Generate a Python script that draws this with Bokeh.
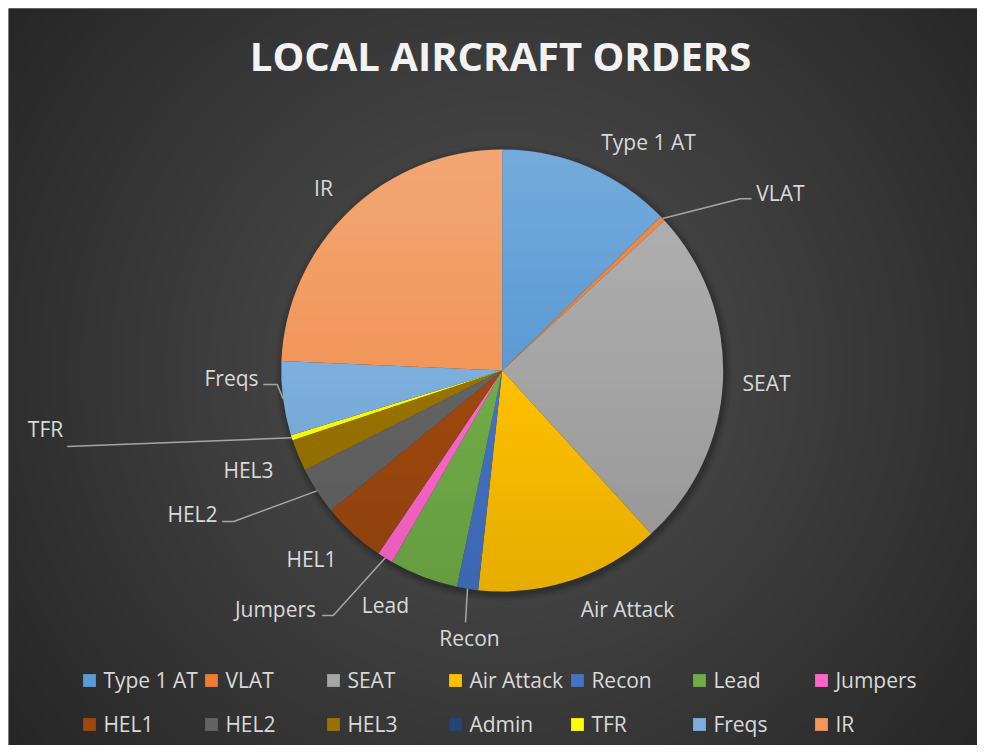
import numpy as np
from bokeh.plotting import figure
from bokeh.models import ColumnDataSource, Range1d, Legend, LegendItem, Label
from bokeh.core.properties import value
from bokeh.embed import file_html
from bokeh.resources import INLINE

# ---------------- data ----------------
categories = ["Type 1 AT", "VLAT", "SEAT", "Air Attack", "Recon", "Lead", "Jumpers",
              "HEL1", "HEL2", "HEL3", "Admin", "TFR", "Freqs", "IR"]
orders = [33, 1, 65, 35, 4, 13, 3, 12, 9, 6, 0, 1, 14, 63]
colors = ["#5B9BD5", "#ED7D31", "#A5A5A5", "#FFC000", "#4472C4", "#70AD47", "#FF66CC",
          "#9E480E", "#636363", "#997300", "#264478", "#FFFF00", "#7CAFDD", "#F1975A"]
title_text = "LOCAL AIRCRAFT ORDERS"

# ---------------- layout ----------------
BL, BT = 8, 8           # white strip left / top (as in the reference)
W, H = 969, 737         # frame size


def px(X, Y):
    """picture pixel -> data coordinate (data units == screen px)"""
    return X - BL, H - (Y - BT)


CX, CY = px(501.7, 370)
R = 221

# label anchor positions (picture px)
label_pos = {
    "Type 1 AT": (648, 141), "VLAT": (780, 192), "SEAT": (766, 382),
    "Air Attack": (627, 608), "Recon": (469, 637), "Lead": (385, 604),
    "Jumpers": (275, 608), "HEL1": (311, 558), "HEL2": (192, 513),
    "HEL3": (248, 469), "TFR": (45, 428), "Freqs": (231, 377), "IR": (323, 187),
}
# leader line elbows (picture px) after the slice edge point
leaders = {
    "VLAT": [(740, 198.3), (751, 198.3)],
    "Freqs": [(276.7, 384), (262.7, 384)],
    "TFR": [(66.7, 446)],
    "HEL2": [(233.3, 521), (221.7, 521)],
    "Jumpers": [(332.7, 615), (321.7, 615)],
    "Recon": [(465, 621.7)],
}

# ---------------- geometry from data ----------------
vals = np.array(orders, dtype=float)
frac = vals / vals.sum()
cum = np.concatenate([[0.0], np.cumsum(frac)])
start_ang = np.pi / 2 - cum[:-1] * 2 * np.pi
end_ang = np.pi / 2 - cum[1:] * 2 * np.pi
mid_cw = (cum[:-1] + cum[1:]) / 2 * 2 * np.pi  # clockwise from top

src = ColumnDataSource(dict(
    cat=categories, val=orders, color=colors,
    start=start_ang, end=end_ang,
    radius=[R if v > 0 else 0 for v in orders],
))

p = figure(width=W + BL, height=H + BT, x_range=Range1d(0, W), y_range=Range1d(0, H),
           output_backend="svg", toolbar_location=None,
           min_border_left=BL, min_border_top=BT, min_border_right=0, min_border_bottom=0,
           background_fill_color="#3c3c3c", border_fill_color="white")
p.axis.visible = False
p.grid.visible = False
p.outline_line_color = None

# background radial gradient
sc = 3
gw, gh = W // sc + 1, H // sc + 1
yy, xx = np.mgrid[0:gh, 0:gw]
d = np.hypot(xx * sc - CX, yy * sc - CY)
d = d / d.max()
lum = (82 - 44 * d).clip(0, 255).astype(np.uint32)
img = (255 << 24) | (lum << 16) | (lum << 8) | lum
p.image_rgba(image=[img.astype(np.uint32)], x=0, y=0, dw=gw * sc, dh=gh * sc)

# pie shadow
for k, a in [(7, 0.05), (5, 0.06), (3, 0.07), (1.5, 0.08)]:
    p.circle(x=CX + 1.5, y=CY - 2.5, radius=R + k, fill_color="black", fill_alpha=a,
             line_color=None)

wr = p.wedge(x=CX, y=CY, radius="radius", start_angle="start", end_angle="end",
             direction="clock", fill_color="color", line_color=None, source=src)

# vertical light-to-dark shading over the pie (gradient fill look)
n = 2 * R
jj, ii = np.mgrid[0:n, 0:n]
ddx = ii + 0.5 - R
ddy = jj + 0.5 - R
dist = np.hypot(ddx, ddy)
cov = np.clip(R - dist + 0.5, 0, 1)
t = 1 - (jj + 0.5) / n          # 0 at top, 1 at bottom
wa = np.clip(0.16 * (1 - 2 * t), 0, 1)
ba = np.clip(0.10 * (2 * t - 1), 0, 1)
rgb = np.where(t < 0.5, 255, 0).astype(np.uint32)
alpha = (np.maximum(wa, ba) * cov * 255).astype(np.uint32)
shade = (alpha << 24) | (rgb << 16) | (rgb << 8) | rgb
p.image_rgba(image=[shade.astype(np.uint32)], x=CX - R, y=CY - R, dw=n, dh=n)

# leader lines
for cat, pts in leaders.items():
    i = categories.index(cat)
    a = mid_cw[i]
    sx = CX + R * np.sin(a)
    sy = CY + R * np.cos(a)
    xs = [sx] + [px(*q)[0] for q in pts]
    ys = [sy] + [px(*q)[1] for q in pts]
    p.line(xs, ys, line_color="#a6a6a6", line_width=1.5)

# data labels
lab_names = [c for c in categories if c in label_pos]
lab_src = ColumnDataSource(dict(
    x=[px(*label_pos[c])[0] for c in lab_names],
    y=[px(*label_pos[c])[1] for c in lab_names],
    t=lab_names,
))
p.text(x="x", y="y", text="t", source=lab_src, text_align="center",
       text_baseline="middle", text_font=value("Open Sans"),
       text_font_size="21px", text_color="#d9d9d9")

# title
tx, ty = px(500, 55)
p.add_layout(Label(x=tx, y=ty, text=title_text, text_align="center",
                   text_baseline="middle", text_font="Open Sans",
                   text_font_style="bold", text_font_size="40px",
                   text_color="#f2f2f2"))

# legend
items = [LegendItem(label=c, renderers=[wr], index=i) for i, c in enumerate(categories)]
lx, ly = px(81.4, 744)
legend = Legend(items=items, location=(lx, ly), orientation="horizontal", ncols=7,
                glyph_width=16, glyph_height=16, label_standoff=6, label_width=96,
                label_height=40, spacing=4, padding=0, margin=0,
                border_line_color=None, background_fill_alpha=0,
                label_text_font="Open Sans", label_text_font_size="21px",
                label_text_color="#d9d9d9", inactive_fill_alpha=0)
p.add_layout(legend)

open("out.html", "w").write(file_html(p, INLINE))
